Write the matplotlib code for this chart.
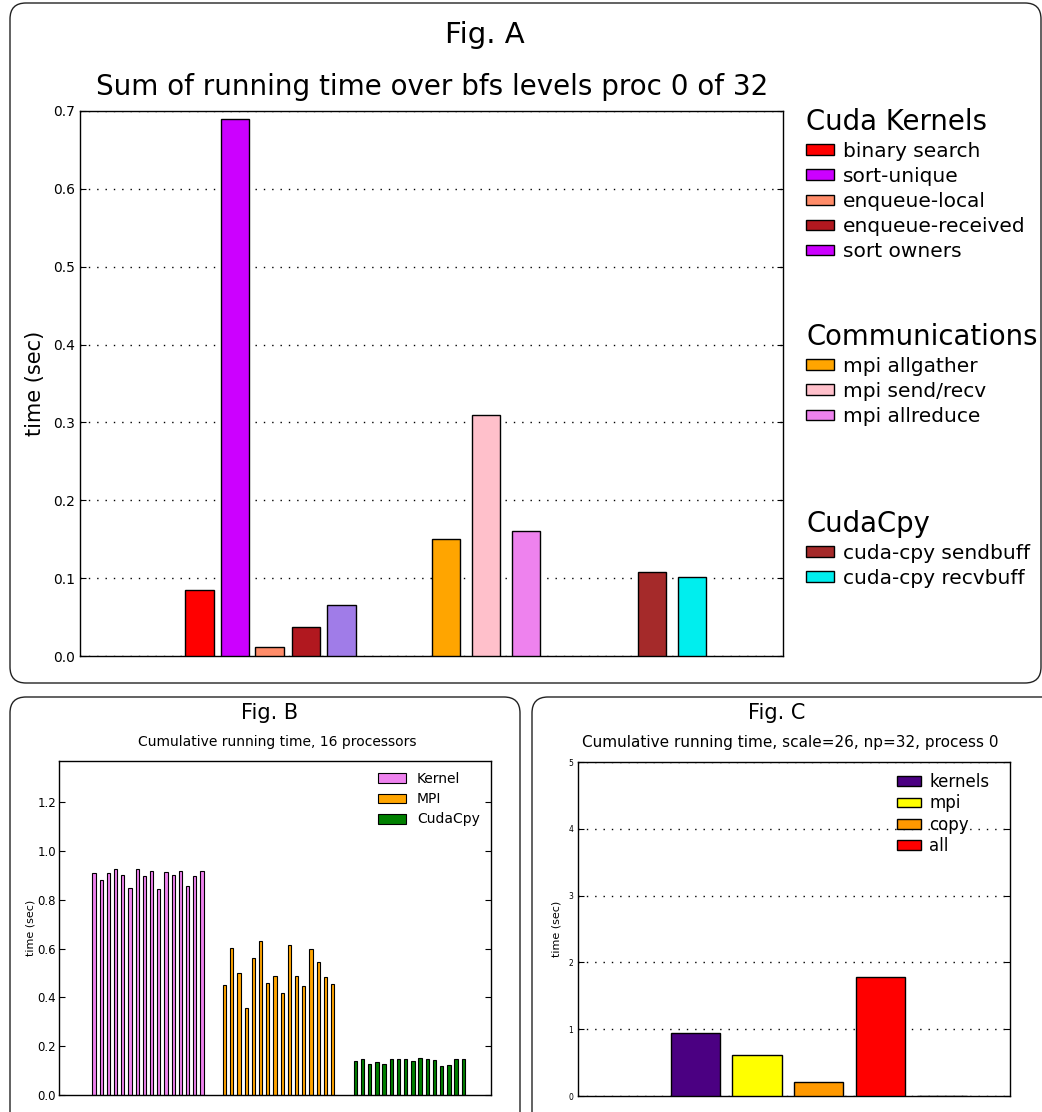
import matplotlib
matplotlib.use('Agg')
import matplotlib.pyplot as plt
from matplotlib.patches import FancyBboxPatch, Patch
from matplotlib.transforms import IdentityTransform

# --- Fig. A: per-kernel / per-comm times summed over bfs levels ---
kernel_names = ['binary search', 'sort-unique', 'enqueue-local', 'enqueue-received', 'sort owners']
kernel_times = [0.085, 0.69, 0.012, 0.037, 0.065]
kernel_x = [3.0, 4.0, 4.98, 6.03, 7.04]
kernel_colors = ['#ff0000', '#cc00ff', '#ff8c69', '#b1181f', '#a07ce8']
kernel_legend_colors = ['#ff0000', '#cc00ff', '#ff8c69', '#b1181f', '#cc00ff']

comm_names = ['mpi allgather', 'mpi send/recv', 'mpi allreduce']
comm_times = [0.15, 0.31, 0.16]
comm_x = [10.01, 11.15, 12.28]
comm_colors = ['#ffa500', '#ffc0cb', '#ee82ee']

cpy_names = ['cuda-cpy sendbuff', 'cuda-cpy recvbuff']
cpy_times = [0.108, 0.101]
cpy_x = [15.87, 17.0]
cpy_colors = ['#a52a2a', '#00eeee']

# --- Fig. B: cumulative time on each of 16 processors ---
b_kernel = [0.912, 0.882, 0.912, 0.928, 0.904, 0.848, 0.928, 0.900,
            0.920, 0.846, 0.916, 0.904, 0.917, 0.859, 0.900, 0.920]
b_mpi = [0.452, 0.603, 0.501, 0.355, 0.562, 0.632, 0.460, 0.487,
         0.419, 0.614, 0.490, 0.448, 0.598, 0.547, 0.485, 0.457]
b_cpy = [0.141, 0.146, 0.126, 0.137, 0.126, 0.147, 0.147, 0.146,
         0.138, 0.150, 0.146, 0.142, 0.121, 0.124, 0.146, 0.146]
b_starts = [4.63, 22.78, 40.93]
b_labels = ['Kernel', 'MPI', 'CudaCpy']
b_colors = ['#ee82ee', '#ffa500', '#008000']

# --- Fig. C: cumulative time, scale=26, np=32 ---
c_labels = ['kernels', 'mpi', 'copy', 'all', None]
c_times = [0.948, 0.619, 0.21, 1.777, 0.0]
c_x = [1.5, 2.5, 3.5, 4.5, 5.5]
c_colors = ['#4b0082', '#ffff00', '#ff9900', '#ff0000', 'white']

W, H = 1042, 1112
fig = plt.figure(figsize=(W / 100, H / 100), dpi=100)


def px_axes(left, top, right, bottom):
    return fig.add_axes([left / W, 1 - bottom / H, (right - left) / W, (bottom - top) / H])


def rounded_box(x0, y0, x1, y1):
    # pixel coords from top-left
    box = FancyBboxPatch((x0, H - y1), x1 - x0, y1 - y0,
                         boxstyle='round,pad=0,rounding_size=16',
                         transform=IdentityTransform(), facecolor='none',
                         edgecolor='#222222', linewidth=1.0, clip_on=False)
    fig.add_artist(box)


def style_axes(ax, labelsize, pad=3.5):
    ax.tick_params(axis='y', direction='in', length=4, left=True, right=True,
                   labelsize=labelsize, pad=pad)
    ax.set_xticks([])
    for s in ax.spines.values():
        s.set_linewidth(1.0)


rounded_box(10, 3, 1041, 683)
rounded_box(10, 697, 520, 1140)
rounded_box(532, 697, 1070, 1140)

# Fig. A
axA = px_axes(80, 111, 783, 656)
bk = axA.bar(kernel_x, kernel_times, width=0.81, align='edge', color=kernel_colors,
             edgecolor='black', linewidth=1.0, zorder=3)
bc = axA.bar(comm_x, comm_times, width=0.81, align='edge', color=comm_colors,
             edgecolor='black', linewidth=1.0, zorder=3)
bp = axA.bar(cpy_x, cpy_times, width=0.81, align='edge', color=cpy_colors,
             edgecolor='black', linewidth=1.0, zorder=3)
axA.set_xlim(0, 20)
axA.set_ylim(0, 0.7)
axA.set_yticks([0.0, 0.1, 0.2, 0.3, 0.4, 0.5, 0.6, 0.7])
axA.yaxis.grid(True, color='black', linestyle=(0, (1, 5)), linewidth=1.0)
style_axes(axA, 10)
axA.set_ylabel('time (sec)', fontsize=15)
axA.yaxis.set_label_coords(-0.05, 0.5)

fig.text(485 / W, 1 - 35 / H, 'Fig. A', fontsize=21, ha='center', va='center')
fig.text(432 / W, 1 - 87 / H, 'Sum of running time over bfs levels proc 0 of 32',
         fontsize=20, ha='center', va='center')

leg_kw = dict(loc='upper left', frameon=False, fontsize=14.5, title_fontsize=19.8,
              alignment='left', borderpad=0, borderaxespad=0, handlelength=1.4,
              handleheight=0.45, handletextpad=0.45, labelspacing=0.3)
groups = [
    ('Cuda Kernels', kernel_names, kernel_legend_colors, 108),
    ('Communications', comm_names, comm_colors, 323),
    ('CudaCpy', cpy_names, cpy_colors, 510),
]
for title, names, colors, top in groups:
    handles = [Patch(facecolor=c, edgecolor='black', linewidth=1.0) for c in colors]
    fig.legend(handles, names, title=title, bbox_to_anchor=(806 / W, 1 - top / H), **leg_kw)

# Fig. B
axB = px_axes(59, 761, 491, 1095)
for start, vals, col, lab in zip(b_starts, [b_kernel, b_mpi, b_cpy], b_colors, b_labels):
    xs = [start + i for i in range(len(vals))]
    axB.bar(xs, vals, width=0.45, align='edge', color=col, edgecolor='black',
            linewidth=0.8, label=lab)
axB.set_xlim(0, 60)
axB.set_ylim(0, 1.37)
axB.set_yticks([0.0, 0.2, 0.4, 0.6, 0.8, 1.0, 1.2])
style_axes(axB, 8.5, pad=2)
axB.set_ylabel('time (sec)', fontsize=8)
axB.yaxis.set_label_coords(-0.054, 0.5)
axB.legend(loc='upper left', bbox_to_anchor=((378 - 59) / 432, (1095 - 772) / 334),
           frameon=False, fontsize=10, borderpad=0, borderaxespad=0,
           handlelength=2.0, handleheight=0.7, handletextpad=0.8, labelspacing=0.45)

fig.text(270 / W, 1 - 713 / H, 'Fig. B', fontsize=15, ha='center', va='center')
fig.text(277 / W, 1 - 742 / H, 'Cumulative running time, 16 processors',
         fontsize=10, ha='center', va='center')

# Fig. C
axC = px_axes(578, 762, 1010, 1096)
for x, t, col, lab in zip(c_x, c_times, c_colors, c_labels):
    axC.bar(x, t, width=0.8, align='edge', color=col, edgecolor='black',
            linewidth=1.0, label=lab, zorder=3)
axC.set_xlim(0, 7)
axC.set_ylim(0, 5)
axC.set_yticks([0, 1, 2, 3, 4, 5])
axC.yaxis.grid(True, color='black', linestyle=(0, (1, 5)), linewidth=1.0)
style_axes(axC, 5.5)
axC.set_ylabel('time (sec)', fontsize=8)
axC.yaxis.set_label_coords(-0.038, 0.5)
axC.legend(loc='upper left', bbox_to_anchor=((897 - 578) / 432, (1096 - 773) / 334),
           frameon=False, fontsize=12, borderpad=0, borderaxespad=0,
           handlelength=1.45, handleheight=0.5, handletextpad=0.5, labelspacing=0.2)

fig.text(777 / W, 1 - 713 / H, 'Fig. C', fontsize=15, ha='center', va='center')
fig.text(790 / W, 1 - 743 / H, 'Cumulative running time, scale=26, np=32, process 0',
         fontsize=11, ha='center', va='center')

fig.savefig('out.png', dpi=100, facecolor='white')
